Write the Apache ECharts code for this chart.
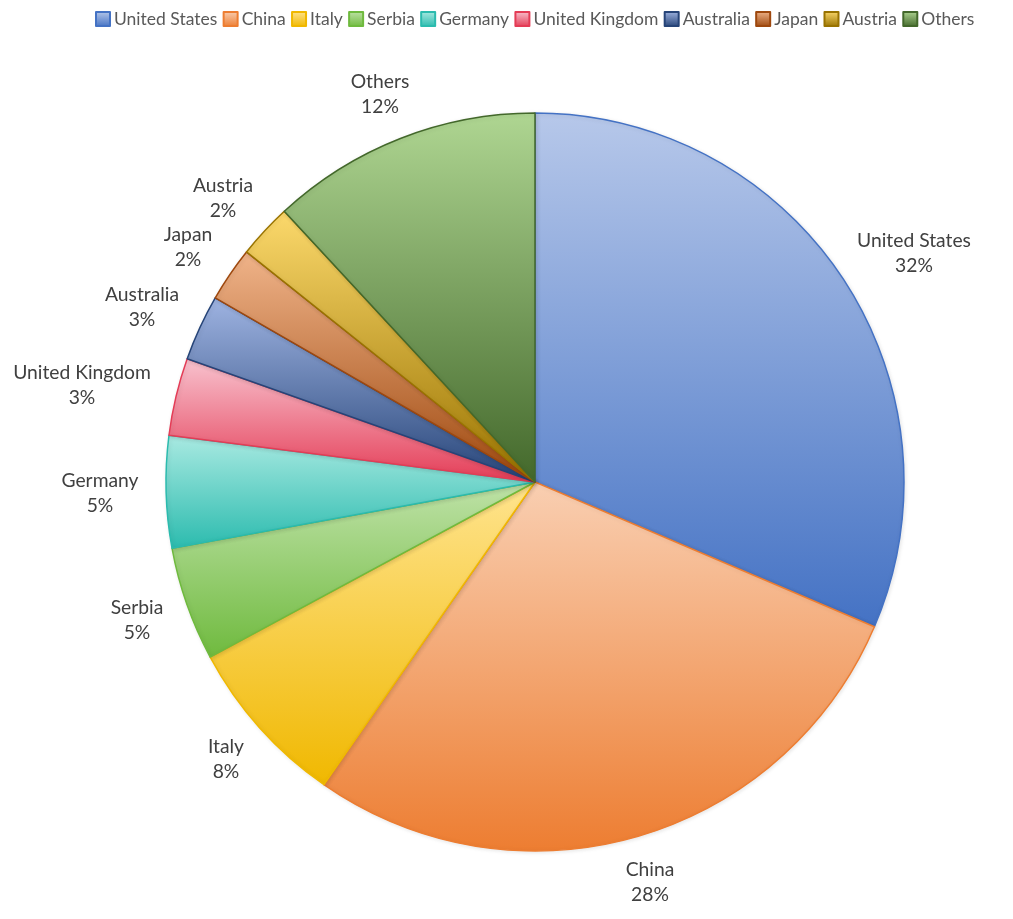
<!DOCTYPE html>
<html>
<head>
<meta charset="utf-8">
<style>
  html, body { margin: 0; padding: 0; background: #fff; }
  #chart { width: 1013px; height: 919px; }
</style>
<script src="https://cdn.jsdelivr.net/npm/echarts@6/dist/echarts.min.js"></script>
</head>
<body>
<div id="chart"></div>
<script>
// categories and values (share of total)
var countries = ['United States', 'China', 'Italy', 'Serbia', 'Germany', 'United Kingdom', 'Australia', 'Japan', 'Austria', 'Others'];
var shares = [31.45, 28.3, 7.45, 5.0, 4.9, 3.4, 2.9, 2.4, 2.4, 11.9];

// gradient colours, top of slice / bottom of slice
var topColors = ['#b7c8ea', '#f9cfb2', '#ffe48f', '#bfe2a8', '#aaeae2', '#f8c3cf', '#9fb4e2', '#f0b48a', '#fcd96c', '#afd692'];
var bottomColors = ['#4472c4', '#ed7d31', '#f0b800', '#6fba3e', '#2bbbae', '#e43c56', '#264478', '#9e480e', '#997300', '#43682b'];

// centre of each label text
var labelCentres = [[914, 253], [650, 882], [226, 759], [137, 620], [100, 493], [82, 385], [142, 307], [188, 247], [223, 198], [380, 94]];

var chart = echarts.init(document.getElementById('chart'));

function slice(i) {
  return {
    name: countries[i],
    value: shares[i],
    itemStyle: {
      borderColor: bottomColors[i],
      color: {
        type: 'linear', x: 0, y: 0, x2: 0, y2: 1,
        colorStops: [
          { offset: 0, color: topColors[i] },
          { offset: 1, color: bottomColors[i] }
        ]
      }
    }
  };
}

chart.setOption({
  animation: false,
  legend: {
    top: 5,
    left: 90,
    itemWidth: 14,
    itemHeight: 14,
    itemGap: 5.3,
    icon: 'rect',
    data: countries,
    textStyle: { fontFamily: 'Lato', fontSize: 17.5, color: '#595959', padding: [0, 0, 0, -1] }
  },
  series: [{
    type: 'pie',
    center: [535, 482],
    radius: [0, 369],
    startAngle: 90,
    clockwise: true,
    avoidLabelOverlap: false,
    percentPrecision: 0,
    itemStyle: { borderWidth: 1.5, shadowBlur: 4, shadowOffsetX: 1, shadowOffsetY: 1, shadowColor: 'rgba(0,0,0,0.1)' },
    emphasis: { disabled: true },
    label: {
      show: true,
      formatter: '{b}\n{d}%',
      fontFamily: 'Lato',
      fontSize: 19.3,
      lineHeight: 25,
      color: '#404040'
    },
    labelLine: { show: false },
    labelLayout: function (params) {
      var c = labelCentres[params.dataIndex];
      return { x: c[0], y: c[1], align: 'center', verticalAlign: 'middle' };
    },
    data: countries.map(function (name, i) { return slice(i); })
  }]
});
</script>
</body>
</html>
